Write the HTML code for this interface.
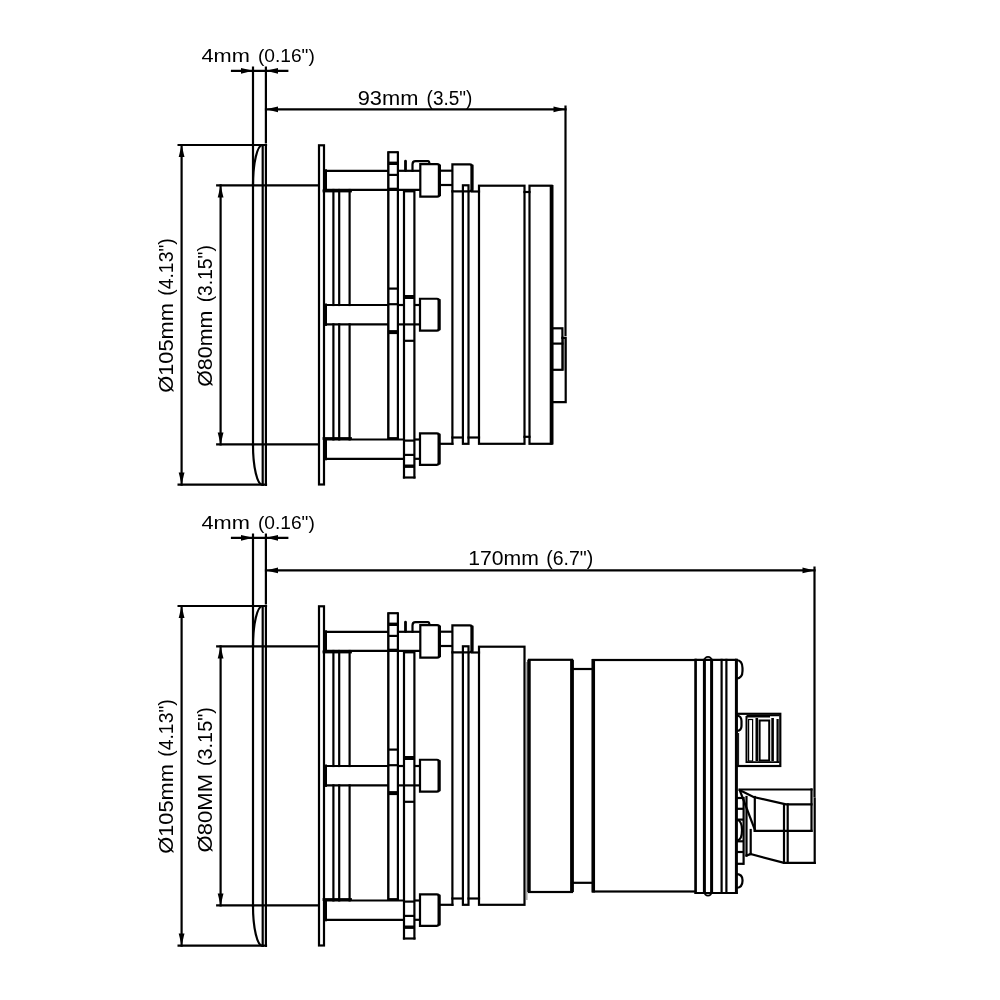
<!DOCTYPE html>
<html><head><meta charset="utf-8"><style>
html,body{margin:0;padding:0;background:#fff;}
svg{display:block;will-change:transform;}
text{font-family:"Liberation Sans",sans-serif;fill:#000;stroke:none;}
</style></head><body>
<svg width="1000" height="1000" viewBox="0 0 1000 1000">
<rect x="0" y="0" width="1000" height="1000" fill="#fff"/>
<g stroke="#000" fill="none" stroke-linecap="square">
<line x1="232" y1="70.8" x2="287.3" y2="70.8" stroke-width="2.2"/>
<path d="M253,70.8 L241,67.9 L241,73.7Z" fill="#000" stroke="none"/>
<path d="M266,70.8 L278,67.9 L278,73.7Z" fill="#000" stroke="none"/>
<line x1="253" y1="67.6" x2="253" y2="185" stroke-width="2.2"/>
<line x1="265.9" y1="67.6" x2="265.9" y2="142.4" stroke-width="2.2"/>
<line x1="178.6" y1="145" x2="266" y2="145" stroke-width="2.2"/>
<line x1="178.6" y1="484.6" x2="266" y2="484.6" stroke-width="2.2"/>
<line x1="181.6" y1="145" x2="181.6" y2="484.6" stroke-width="2.2"/>
<path d="M181.6,145 L178.7,157 L184.5,157Z" fill="#000" stroke="none"/>
<path d="M181.6,484.6 L178.7,472.6 L184.5,472.6Z" fill="#000" stroke="none"/>
<line x1="217.2" y1="185.4" x2="318.5" y2="185.4" stroke-width="2.2"/>
<line x1="217.2" y1="444.4" x2="318.5" y2="444.4" stroke-width="2.2"/>
<line x1="220.6" y1="185.4" x2="220.6" y2="444.4" stroke-width="2.2"/>
<path d="M220.6,185.4 L217.7,197.4 L223.5,197.4Z" fill="#000" stroke="none"/>
<path d="M220.6,444.4 L217.7,432.4 L223.5,432.4Z" fill="#000" stroke="none"/>
<line x1="253" y1="185" x2="253" y2="445" stroke-width="2.2"/>
<path d="M262.5,145 A9.5,40 0 0 0 253,185" stroke-width="2.2" fill="none"/>
<path d="M253,445 A9.5,40 0 0 0 262.5,485" stroke-width="2.2" fill="none"/>
<line x1="262.7" y1="145" x2="262.7" y2="485" stroke-width="2.2"/>
<line x1="265.9" y1="145" x2="265.9" y2="485" stroke-width="2.2"/>
<rect x="319" y="145.3" width="5" height="339.2" stroke-width="2.2"/>
<line x1="325.5" y1="170.8" x2="325.5" y2="189.9" stroke-width="3"/>
<line x1="325.5" y1="305" x2="325.5" y2="324.4" stroke-width="3"/>
<line x1="325.5" y1="439.5" x2="325.5" y2="458.8" stroke-width="3"/>
<line x1="324" y1="170.8" x2="388.3" y2="170.8" stroke-width="2.2" stroke-linecap="butt"/>
<line x1="397.9" y1="170.8" x2="420.3" y2="170.8" stroke-width="2.2" stroke-linecap="butt"/>
<line x1="324" y1="189.9" x2="420.3" y2="189.9" stroke-width="2.2"/>
<line x1="324" y1="305" x2="388.3" y2="305" stroke-width="2.2" stroke-linecap="butt"/>
<line x1="397.9" y1="305" x2="404" y2="305" stroke-width="2.2" stroke-linecap="butt"/>
<line x1="414.4" y1="305" x2="420.3" y2="305" stroke-width="2.2" stroke-linecap="butt"/>
<line x1="324" y1="324.4" x2="388.3" y2="324.4" stroke-width="2.2" stroke-linecap="butt"/>
<line x1="397.9" y1="324.4" x2="420.3" y2="324.4" stroke-width="2.2" stroke-linecap="butt"/>
<line x1="324" y1="439.5" x2="404" y2="439.5" stroke-width="2.2" stroke-linecap="butt"/>
<line x1="414.4" y1="439.5" x2="420.3" y2="439.5" stroke-width="2.2" stroke-linecap="butt"/>
<line x1="324" y1="458.8" x2="404" y2="458.8" stroke-width="2.2" stroke-linecap="butt"/>
<line x1="414.4" y1="458.8" x2="420.3" y2="458.8" stroke-width="2.2" stroke-linecap="butt"/>
<line x1="333.4" y1="190" x2="333.4" y2="305" stroke-width="2.2"/>
<line x1="333.4" y1="324.4" x2="333.4" y2="439.4" stroke-width="2.2"/>
<line x1="339.2" y1="190" x2="339.2" y2="305" stroke-width="2.2"/>
<line x1="339.2" y1="324.4" x2="339.2" y2="439.4" stroke-width="2.2"/>
<line x1="349.6" y1="190" x2="349.6" y2="305" stroke-width="2.2"/>
<line x1="349.6" y1="324.4" x2="349.6" y2="439.4" stroke-width="2.2"/>
<line x1="324" y1="191" x2="350.5" y2="191" stroke-width="2.8"/>
<line x1="324" y1="438.5" x2="350.5" y2="438.5" stroke-width="2.8"/>
<line x1="388.3" y1="151.2" x2="388.3" y2="439.4" stroke-width="2.4" stroke-linecap="butt"/>
<line x1="397.9" y1="151.2" x2="397.9" y2="439.4" stroke-width="2.2" stroke-linecap="butt"/>
<line x1="388.3" y1="152.2" x2="397.9" y2="152.2" stroke-width="2.2" stroke-linecap="butt"/>
<line x1="388" y1="174.9" x2="397.9" y2="174.9" stroke-width="2.2" stroke-linecap="butt"/>
<line x1="388" y1="188.8" x2="397.9" y2="188.8" stroke-width="2.2" stroke-linecap="butt"/>
<line x1="388" y1="288.6" x2="397.9" y2="288.6" stroke-width="2.2" stroke-linecap="butt"/>
<line x1="388" y1="304.2" x2="397.9" y2="304.2" stroke-width="2.2" stroke-linecap="butt"/>
<line x1="388" y1="332.1" x2="397.9" y2="332.1" stroke-width="4" stroke-linecap="butt"/>
<line x1="388" y1="438.5" x2="397.9" y2="438.5" stroke-width="2.8" stroke-linecap="butt"/>
<line x1="388" y1="163.3" x2="397.9" y2="163.3" stroke-width="3.4" stroke-linecap="butt"/>
<line x1="404" y1="190" x2="404" y2="477.5" stroke-width="2.2"/>
<line x1="414.4" y1="190" x2="414.4" y2="477.5" stroke-width="2.2"/>
<line x1="404" y1="477.5" x2="414.4" y2="477.5" stroke-width="2.2"/>
<line x1="404" y1="191" x2="414.4" y2="191" stroke-width="2.8" stroke-linecap="butt"/>
<line x1="404" y1="297" x2="414.4" y2="297" stroke-width="4" stroke-linecap="butt"/>
<line x1="404" y1="340.8" x2="414.4" y2="340.8" stroke-width="2.2" stroke-linecap="butt"/>
<line x1="404" y1="440.6" x2="414.4" y2="440.6" stroke-width="2.2" stroke-linecap="butt"/>
<line x1="404" y1="454.9" x2="414.4" y2="454.9" stroke-width="2.2" stroke-linecap="butt"/>
<line x1="404" y1="466.2" x2="414.4" y2="466.2" stroke-width="3.4" stroke-linecap="butt"/>
<line x1="405.5" y1="161.2" x2="405.5" y2="170.6" stroke-width="2.8" stroke-linecap="round"/>
<path d="M412.5,170.8 L412.5,164.5 Q412.5,161.2 415.5,161.2 L428,161.2 Q429.4,161.2 429.4,164" stroke-width="2.2" fill="none"/>
<path d="M420.3,164.2 L437.2,164.2 Q439.4,164.2 439.4,166.4 L439.4,194.4 Q439.4,196.6 437.2,196.6 L420.3,196.6 Z" stroke-width="2.2" stroke-linejoin="miter" fill="#fff"/>
<line x1="439.4" y1="166.2" x2="439.4" y2="194.6" stroke-width="3.2"/>
<path d="M420,298.75 L436.9,298.75 Q439.1,298.75 439.1,300.95 L439.1,328.4 Q439.1,330.6 436.9,330.6 L420,330.6 Z" stroke-width="2.2" stroke-linejoin="miter" fill="#fff"/>
<line x1="439.1" y1="300.75" x2="439.1" y2="328.6" stroke-width="3.2"/>
<path d="M420,433.3 L436.9,433.3 Q439.1,433.3 439.1,435.5 L439.1,462.6 Q439.1,464.8 436.9,464.8 L420,464.8 Z" stroke-width="2.2" stroke-linejoin="miter" fill="#fff"/>
<line x1="439.1" y1="435.3" x2="439.1" y2="462.8" stroke-width="3.2"/>
<line x1="439.1" y1="170.7" x2="452.4" y2="170.7" stroke-width="2.2"/>
<line x1="439.1" y1="185" x2="452.4" y2="185" stroke-width="2.2"/>
<path d="M452.4,164.3 L469.8,164.3 Q472,164.3 472,166.5 L472,189.1 Q472,191.3 469.8,191.3 L452.4,191.3 Z" stroke-width="2.2" stroke-linejoin="miter" fill="#fff"/>
<line x1="472" y1="166.3" x2="472" y2="189.3" stroke-width="3.2"/>
<line x1="472" y1="191.5" x2="479" y2="191.5" stroke-width="2.2"/>
<line x1="452.4" y1="191.3" x2="452.4" y2="443.8" stroke-width="2.2"/>
<rect x="462.9" y="185.3" width="5.600000000000023" height="258.5" stroke-width="2.2"/>
<line x1="439.1" y1="443.8" x2="452.4" y2="443.8" stroke-width="2.2"/>
<line x1="452.4" y1="437.5" x2="462.9" y2="437.5" stroke-width="2.2"/>
<line x1="468.5" y1="437.5" x2="479" y2="437.5" stroke-width="2.2"/>
<rect x="479" y="185.7" width="45.5" height="258.1" stroke-width="2.2"/>
<line x1="524.5" y1="192" x2="529.5" y2="192" stroke-width="2.2"/>
<line x1="524.5" y1="436.8" x2="529.5" y2="436.8" stroke-width="2.2"/>
<rect x="529.5" y="185.7" width="22.100000000000023" height="258.1" stroke-width="2.2"/>
<line x1="551.6" y1="187" x2="551.6" y2="442.5" stroke-width="3.8"/>
<rect x="552" y="328.3" width="10.399999999999977" height="41.5" stroke-width="2.2"/>
<line x1="552" y1="343.6" x2="562.4" y2="343.6" stroke-width="2.2"/>
<path d="M562.4,337.9 L565.7,337.9 L565.7,402.1 L552,402.1" stroke-width="2.2" fill="none"/>
<line x1="563.8" y1="339" x2="563.8" y2="370" stroke-width="0.8"/>
<line x1="266" y1="109.3" x2="565.5" y2="109.3" stroke-width="2.2"/>
<path d="M266,109.3 L278,106.4 L278,112.2Z" fill="#000" stroke="none"/>
<path d="M565.5,109.3 L553.5,106.4 L553.5,112.2Z" fill="#000" stroke="none"/>
<line x1="565.5" y1="106.6" x2="565.5" y2="335" stroke-width="2.2"/>
<line x1="232" y1="537.8" x2="287.3" y2="537.8" stroke-width="2.2"/>
<path d="M253,537.8 L241,534.9 L241,540.7Z" fill="#000" stroke="none"/>
<path d="M266,537.8 L278,534.9 L278,540.7Z" fill="#000" stroke="none"/>
<line x1="253" y1="534.6" x2="253" y2="646" stroke-width="2.2"/>
<line x1="265.9" y1="534.6" x2="265.9" y2="603.4" stroke-width="2.2"/>
<line x1="178.6" y1="606" x2="266" y2="606" stroke-width="2.2"/>
<line x1="178.6" y1="945.6" x2="266" y2="945.6" stroke-width="2.2"/>
<line x1="181.6" y1="606" x2="181.6" y2="945.6" stroke-width="2.2"/>
<path d="M181.6,606 L178.7,618 L184.5,618Z" fill="#000" stroke="none"/>
<path d="M181.6,945.6 L178.7,933.6 L184.5,933.6Z" fill="#000" stroke="none"/>
<line x1="217.2" y1="646.4" x2="318.5" y2="646.4" stroke-width="2.2"/>
<line x1="217.2" y1="905.4" x2="318.5" y2="905.4" stroke-width="2.2"/>
<line x1="220.6" y1="646.4" x2="220.6" y2="905.4" stroke-width="2.2"/>
<path d="M220.6,646.4 L217.7,658.4 L223.5,658.4Z" fill="#000" stroke="none"/>
<path d="M220.6,905.4 L217.7,893.4 L223.5,893.4Z" fill="#000" stroke="none"/>
<line x1="253" y1="646" x2="253" y2="906" stroke-width="2.2"/>
<path d="M262.5,606 A9.5,40 0 0 0 253,646" stroke-width="2.2" fill="none"/>
<path d="M253,906 A9.5,40 0 0 0 262.5,946" stroke-width="2.2" fill="none"/>
<line x1="262.7" y1="606" x2="262.7" y2="946" stroke-width="2.2"/>
<line x1="265.9" y1="606" x2="265.9" y2="946" stroke-width="2.2"/>
<rect x="319" y="606.3" width="5" height="339.20000000000005" stroke-width="2.2"/>
<line x1="325.5" y1="631.8" x2="325.5" y2="650.9" stroke-width="3"/>
<line x1="325.5" y1="766" x2="325.5" y2="785.4" stroke-width="3"/>
<line x1="325.5" y1="900.5" x2="325.5" y2="919.8" stroke-width="3"/>
<line x1="324" y1="631.8" x2="388.3" y2="631.8" stroke-width="2.2" stroke-linecap="butt"/>
<line x1="397.9" y1="631.8" x2="420.3" y2="631.8" stroke-width="2.2" stroke-linecap="butt"/>
<line x1="324" y1="650.9" x2="420.3" y2="650.9" stroke-width="2.2"/>
<line x1="324" y1="766" x2="388.3" y2="766" stroke-width="2.2" stroke-linecap="butt"/>
<line x1="397.9" y1="766" x2="404" y2="766" stroke-width="2.2" stroke-linecap="butt"/>
<line x1="414.4" y1="766" x2="420.3" y2="766" stroke-width="2.2" stroke-linecap="butt"/>
<line x1="324" y1="785.4" x2="388.3" y2="785.4" stroke-width="2.2" stroke-linecap="butt"/>
<line x1="397.9" y1="785.4" x2="420.3" y2="785.4" stroke-width="2.2" stroke-linecap="butt"/>
<line x1="324" y1="900.5" x2="404" y2="900.5" stroke-width="2.2" stroke-linecap="butt"/>
<line x1="414.4" y1="900.5" x2="420.3" y2="900.5" stroke-width="2.2" stroke-linecap="butt"/>
<line x1="324" y1="919.8" x2="404" y2="919.8" stroke-width="2.2" stroke-linecap="butt"/>
<line x1="414.4" y1="919.8" x2="420.3" y2="919.8" stroke-width="2.2" stroke-linecap="butt"/>
<line x1="333.4" y1="651" x2="333.4" y2="766" stroke-width="2.2"/>
<line x1="333.4" y1="785.4" x2="333.4" y2="900.4" stroke-width="2.2"/>
<line x1="339.2" y1="651" x2="339.2" y2="766" stroke-width="2.2"/>
<line x1="339.2" y1="785.4" x2="339.2" y2="900.4" stroke-width="2.2"/>
<line x1="349.6" y1="651" x2="349.6" y2="766" stroke-width="2.2"/>
<line x1="349.6" y1="785.4" x2="349.6" y2="900.4" stroke-width="2.2"/>
<line x1="324" y1="652" x2="350.5" y2="652" stroke-width="2.8"/>
<line x1="324" y1="899.5" x2="350.5" y2="899.5" stroke-width="2.8"/>
<line x1="388.3" y1="612.2" x2="388.3" y2="900.4" stroke-width="2.4" stroke-linecap="butt"/>
<line x1="397.9" y1="612.2" x2="397.9" y2="900.4" stroke-width="2.2" stroke-linecap="butt"/>
<line x1="388.3" y1="613.2" x2="397.9" y2="613.2" stroke-width="2.2" stroke-linecap="butt"/>
<line x1="388" y1="635.9" x2="397.9" y2="635.9" stroke-width="2.2" stroke-linecap="butt"/>
<line x1="388" y1="649.8" x2="397.9" y2="649.8" stroke-width="2.2" stroke-linecap="butt"/>
<line x1="388" y1="749.6" x2="397.9" y2="749.6" stroke-width="2.2" stroke-linecap="butt"/>
<line x1="388" y1="765.2" x2="397.9" y2="765.2" stroke-width="2.2" stroke-linecap="butt"/>
<line x1="388" y1="793.1" x2="397.9" y2="793.1" stroke-width="4" stroke-linecap="butt"/>
<line x1="388" y1="899.5" x2="397.9" y2="899.5" stroke-width="2.8" stroke-linecap="butt"/>
<line x1="388" y1="624.3" x2="397.9" y2="624.3" stroke-width="3.4" stroke-linecap="butt"/>
<line x1="404" y1="651" x2="404" y2="938.5" stroke-width="2.2"/>
<line x1="414.4" y1="651" x2="414.4" y2="938.5" stroke-width="2.2"/>
<line x1="404" y1="938.5" x2="414.4" y2="938.5" stroke-width="2.2"/>
<line x1="404" y1="652" x2="414.4" y2="652" stroke-width="2.8" stroke-linecap="butt"/>
<line x1="404" y1="758" x2="414.4" y2="758" stroke-width="4" stroke-linecap="butt"/>
<line x1="404" y1="801.8" x2="414.4" y2="801.8" stroke-width="2.2" stroke-linecap="butt"/>
<line x1="404" y1="901.6" x2="414.4" y2="901.6" stroke-width="2.2" stroke-linecap="butt"/>
<line x1="404" y1="915.9" x2="414.4" y2="915.9" stroke-width="2.2" stroke-linecap="butt"/>
<line x1="404" y1="927.2" x2="414.4" y2="927.2" stroke-width="3.4" stroke-linecap="butt"/>
<line x1="405.5" y1="622.2" x2="405.5" y2="631.6" stroke-width="2.8" stroke-linecap="round"/>
<path d="M412.5,631.8 L412.5,625.5 Q412.5,622.2 415.5,622.2 L428,622.2 Q429.4,622.2 429.4,625" stroke-width="2.2" fill="none"/>
<path d="M420.3,625.2 L437.2,625.2 Q439.4,625.2 439.4,627.4 L439.4,655.4 Q439.4,657.6 437.2,657.6 L420.3,657.6 Z" stroke-width="2.2" stroke-linejoin="miter" fill="#fff"/>
<line x1="439.4" y1="627.2" x2="439.4" y2="655.6" stroke-width="3.2"/>
<path d="M420,759.75 L436.9,759.75 Q439.1,759.75 439.1,761.95 L439.1,789.4 Q439.1,791.6 436.9,791.6 L420,791.6 Z" stroke-width="2.2" stroke-linejoin="miter" fill="#fff"/>
<line x1="439.1" y1="761.75" x2="439.1" y2="789.6" stroke-width="3.2"/>
<path d="M420,894.3 L436.9,894.3 Q439.1,894.3 439.1,896.5 L439.1,923.6 Q439.1,925.8 436.9,925.8 L420,925.8 Z" stroke-width="2.2" stroke-linejoin="miter" fill="#fff"/>
<line x1="439.1" y1="896.3" x2="439.1" y2="923.8" stroke-width="3.2"/>
<line x1="439.1" y1="631.7" x2="452.4" y2="631.7" stroke-width="2.2"/>
<line x1="439.1" y1="646" x2="452.4" y2="646" stroke-width="2.2"/>
<path d="M452.4,625.3 L469.8,625.3 Q472,625.3 472,627.5 L472,650.1 Q472,652.3 469.8,652.3 L452.4,652.3 Z" stroke-width="2.2" stroke-linejoin="miter" fill="#fff"/>
<line x1="472" y1="627.3" x2="472" y2="650.3" stroke-width="3.2"/>
<line x1="472" y1="652.5" x2="479" y2="652.5" stroke-width="2.2"/>
<line x1="452.4" y1="652.3" x2="452.4" y2="904.8" stroke-width="2.2"/>
<rect x="462.9" y="646.3" width="5.600000000000023" height="258.5" stroke-width="2.2"/>
<line x1="439.1" y1="904.8" x2="452.4" y2="904.8" stroke-width="2.2"/>
<line x1="452.4" y1="898.5" x2="462.9" y2="898.5" stroke-width="2.2"/>
<line x1="468.5" y1="898.5" x2="479" y2="898.5" stroke-width="2.2"/>
<rect x="479" y="646.7" width="45.5" height="258.0999999999999" stroke-width="2.2"/>
<line x1="526.8" y1="662" x2="526.8" y2="900" stroke-width="1.6" stroke="#aaa" stroke-linecap="butt"/>
<rect x="529" y="659.8" width="43" height="232.20000000000005" stroke-width="2.2"/>
<line x1="529" y1="659.8" x2="529" y2="892" stroke-width="3.4" stroke-linecap="butt"/>
<line x1="572" y1="659.8" x2="572" y2="892" stroke-width="3.8" stroke-linecap="butt"/>
<line x1="572" y1="669" x2="593.25" y2="669" stroke-width="2.2"/>
<line x1="572" y1="882.8" x2="593.25" y2="882.8" stroke-width="2.2"/>
<rect x="593.25" y="660" width="102.35000000000002" height="231.5" stroke-width="2.2"/>
<line x1="593.25" y1="659" x2="593.25" y2="892.5" stroke-width="3.6" stroke-linecap="butt"/>
<line x1="695.6" y1="659.8" x2="736.4" y2="659.8" stroke-width="2.2"/>
<line x1="695.6" y1="893" x2="736.4" y2="893" stroke-width="2.2"/>
<line x1="695.6" y1="658.8" x2="695.6" y2="894" stroke-width="2.2" stroke-linecap="butt"/>
<line x1="704.4" y1="658.8" x2="704.4" y2="894" stroke-width="3" stroke-linecap="butt"/>
<line x1="711.6" y1="658.8" x2="711.6" y2="894" stroke-width="3" stroke-linecap="butt"/>
<line x1="721.6" y1="658.8" x2="721.6" y2="894" stroke-width="2.2" stroke-linecap="butt"/>
<line x1="726.4" y1="658.8" x2="726.4" y2="894" stroke-width="2.2" stroke-linecap="butt"/>
<line x1="736.4" y1="658.8" x2="736.4" y2="894" stroke-width="3" stroke-linecap="butt"/>
<path d="M704.4,660.5 A3.6,3.6 0 0 1 711.6,660.5" stroke-width="1.8" fill="none"/>
<path d="M704.4,892 A3.6,3.6 0 0 0 711.6,892" stroke-width="1.8" fill="none"/>
<path d="M736.4,660 Q742.5,660.5 742.5,668 L742.5,671 Q742.5,678 736.4,678.6" stroke-width="2.2" fill="none"/>
<path d="M736.4,873.8 Q742.5,874.3 742.5,880 L742.5,881 Q742.5,887.5 736.4,888" stroke-width="2.2" fill="none"/>
<rect x="736.4" y="713.8" width="43.89999999999998" height="52.200000000000045" stroke-width="2.2"/>
<path d="M737,715.5 Q741.5,716 741.5,721 L741.5,726 Q741.5,730.5 737,731" stroke-width="2.2" fill="none"/>
<line x1="738.6" y1="733" x2="738.6" y2="765" stroke-width="1" stroke-linecap="butt"/>
<line x1="746.5" y1="716" x2="746.5" y2="763" stroke-width="2" stroke-linecap="butt"/>
<line x1="746.5" y1="716.2" x2="770" y2="716.2" stroke-width="2.6" stroke-linecap="butt"/>
<line x1="770" y1="715.5" x2="779.5" y2="715.5" stroke-width="1.5" stroke-linecap="butt"/>
<line x1="746.5" y1="762.2" x2="779.5" y2="762.2" stroke-width="1.8" stroke-linecap="butt"/>
<rect x="748.6" y="719.5" width="4.0" height="41.5" stroke-width="1.2"/>
<line x1="756.8" y1="718" x2="756.8" y2="761" stroke-width="2.6" stroke-linecap="butt"/>
<rect x="759.6" y="720.5" width="9.600000000000023" height="40.0" stroke-width="2"/>
<line x1="772.6" y1="718" x2="772.6" y2="761" stroke-width="2.6" stroke-linecap="butt"/>
<line x1="777.6" y1="719" x2="777.6" y2="762" stroke-width="2.2" stroke-linecap="butt"/>
<line x1="739.5" y1="789.5" x2="811.5" y2="789.5" stroke-width="2.2"/>
<line x1="811.5" y1="789.5" x2="811.5" y2="830.9" stroke-width="2.2"/>
<path d="M740,790.3 L753.5,797 L786,804.3 L811.5,804.3" stroke-width="2.2" fill="none"/>
<path d="M740,790.8 L754.8,829.5 " stroke-width="2.2" fill="none"/>
<line x1="754.8" y1="797" x2="754.8" y2="830.9" stroke-width="2.2"/>
<line x1="754.8" y1="830.9" x2="811.5" y2="830.9" stroke-width="2.2"/>
<line x1="784" y1="804.3" x2="784" y2="862.9" stroke-width="2.2"/>
<line x1="787.7" y1="804.3" x2="787.7" y2="862.9" stroke-width="2.2"/>
<path d="M750.7,854 L784,862.9 L814.7,862.9" stroke-width="2.2" fill="none"/>
<line x1="750.7" y1="830" x2="750.7" y2="854" stroke-width="2.2"/>
<line x1="746.5" y1="797" x2="746.5" y2="855.5" stroke-width="2.2"/>
<line x1="746.5" y1="855.5" x2="750.7" y2="854" stroke-width="2.2"/>
<line x1="814.7" y1="798.5" x2="814.7" y2="862.9" stroke-width="2.2"/>
<line x1="736.4" y1="798" x2="743.6" y2="798" stroke-width="2.2" stroke-linecap="butt"/>
<line x1="736.4" y1="808.8" x2="743.6" y2="808.8" stroke-width="2.2" stroke-linecap="butt"/>
<line x1="736.4" y1="819.6" x2="743.6" y2="819.6" stroke-width="2.2" stroke-linecap="butt"/>
<line x1="736.4" y1="841.3" x2="743.6" y2="841.3" stroke-width="2.2" stroke-linecap="butt"/>
<line x1="736.4" y1="852" x2="743.6" y2="852" stroke-width="2.2" stroke-linecap="butt"/>
<line x1="736.4" y1="863.8" x2="743.6" y2="863.8" stroke-width="2.2" stroke-linecap="butt"/>
<line x1="743.6" y1="798" x2="743.6" y2="863.8" stroke-width="2.2"/>
<path d="M737.5,820 Q742,821 742,830 Q742,839.5 737.5,840.5" stroke-width="2.2" fill="none"/>
<line x1="266" y1="570.4" x2="814.5" y2="570.4" stroke-width="2.2"/>
<path d="M266,570.4 L278,567.5 L278,573.3Z" fill="#000" stroke="none"/>
<path d="M814.5,570.4 L802.5,567.5 L802.5,573.3Z" fill="#000" stroke="none"/>
<line x1="814.5" y1="567.6" x2="814.5" y2="796.2" stroke-width="2.2"/>
</g>
<g>
<text x="201.39999999999998" y="61.5" font-size="18" textLength="48.400000000000034" lengthAdjust="spacingAndGlyphs">4mm</text>
<text x="257.9" y="61.5" font-size="18" textLength="56.900000000000034" lengthAdjust="spacingAndGlyphs">(0.16")</text>
<text x="0" y="0" transform="translate(172.8,392.8) rotate(-90)" font-size="21" textLength="89.60000000000002" lengthAdjust="spacingAndGlyphs">&#xD8;105mm</text>
<text x="0" y="0" transform="translate(172.8,295.8) rotate(-90)" font-size="21" textLength="57.60000000000002" lengthAdjust="spacingAndGlyphs">(4.13")</text>
<text x="0" y="0" transform="translate(211.6,386.8) rotate(-90)" font-size="21" textLength="76.10000000000002" lengthAdjust="spacingAndGlyphs">&#xD8;80mm</text>
<text x="0" y="0" transform="translate(211.6,302.3) rotate(-90)" font-size="21" textLength="57.10000000000002" lengthAdjust="spacingAndGlyphs">(3.15")</text>
<text x="357.7" y="105.4" font-size="20" textLength="60.700000000000045" lengthAdjust="spacingAndGlyphs">93mm</text>
<text x="426.59999999999997" y="105.4" font-size="20" textLength="45.80000000000007" lengthAdjust="spacingAndGlyphs">(3.5")</text>
<text x="201.39999999999998" y="528.5" font-size="18" textLength="48.400000000000034" lengthAdjust="spacingAndGlyphs">4mm</text>
<text x="257.9" y="528.5" font-size="18" textLength="56.900000000000034" lengthAdjust="spacingAndGlyphs">(0.16")</text>
<text x="0" y="0" transform="translate(172.8,853.8) rotate(-90)" font-size="21" textLength="89.59999999999991" lengthAdjust="spacingAndGlyphs">&#xD8;105mm</text>
<text x="0" y="0" transform="translate(172.8,756.8) rotate(-90)" font-size="21" textLength="57.59999999999991" lengthAdjust="spacingAndGlyphs">(4.13")</text>
<text x="0" y="0" transform="translate(211.6,852.4) rotate(-90)" font-size="21" textLength="78.39999999999998" lengthAdjust="spacingAndGlyphs">&#xD8;80MM</text>
<text x="0" y="0" transform="translate(211.6,766.0) rotate(-90)" font-size="21" textLength="58.799999999999955" lengthAdjust="spacingAndGlyphs">(3.15")</text>
<text x="468.2" y="565.3" font-size="21" textLength="70.59999999999997" lengthAdjust="spacingAndGlyphs">170mm</text>
<text x="546.2" y="565.3" font-size="21" textLength="46.999999999999886" lengthAdjust="spacingAndGlyphs">(6.7")</text>
</g>
</svg>
</body></html>
